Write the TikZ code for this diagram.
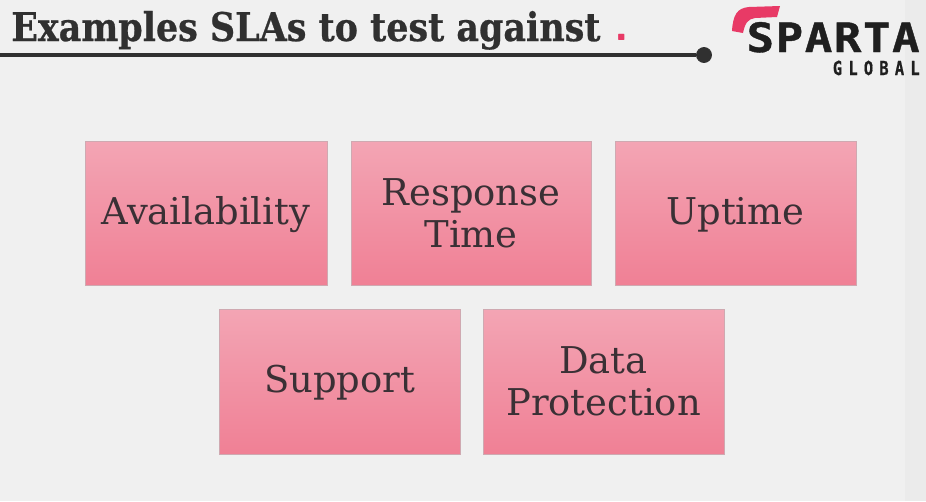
\documentclass[tikz,border=0pt]{standalone}
\usepackage{fontspec}
\setmainfont{DejaVu Serif}
\newfontfamily\titlefont[FakeStretch=.883,FakeBold=.6]{DejaVu Serif}
\newfontfamily\logofont[FakeStretch=1.13,FakeBold=1]{DejaVu Sans Mono}
\newfontfamily\subfont[FakeStretch=.8,FakeBold=.6]{DejaVu Sans Mono}
\usepackage{tikz}
\usetikzlibrary{fit}
\definecolor{bgcol}{HTML}{F0F0F0}
\definecolor{inkcol}{HTML}{3A3035}
\definecolor{darkcol}{HTML}{303030}
\definecolor{pinkcol}{HTML}{E83A66}
\definecolor{boxedge}{HTML}{CFA9B1}
\definecolor{boxtop}{HTML}{F3A5B4}
\definecolor{boxbottom}{HTML}{F08095}
\tikzset{
	slabox/.style={draw=boxedge, line width=.4pt, top color=boxtop, bottom color=boxbottom, inner sep=0pt},
	slatext/.style={align=center, text=inkcol, font=\fontsize{21}{23.8}\selectfont},
	slaone/.style={slatext, yshift=-.8pt},
}

\begin{document}
\begin{tikzpicture}[x=.02cm, y=-.02cm]
	\useasboundingbox (0,0) rectangle (926,501);
	\fill[bgcol] (0,0) rectangle (926,501);
	\fill[black!2!bgcol] (905,0) rectangle (926,501);

	\node[anchor=base west, inner sep=0pt, text=darkcol, font=\titlefont\fontsize{22.5}{24}\selectfont\bfseries] (title) at (11,41) {Examples SLAs to test against};	% heading
	\node[anchor=base, inner sep=0pt, text=pinkcol, font=\sffamily\fontsize{27}{27}\selectfont\bfseries] (stop) at (622,40) {.};
	\coordinate (rulestart) at (0,55);
	\node[draw=darkcol, fill=darkcol, circle, minimum size=8.6pt, inner sep=0pt] (dot) at (704,55) {};
	\draw[darkcol, line width=2pt] (rulestart) -- (dot);

	\fill[pinkcol] (732,31) .. controls (733,15) and (737,8) .. (749,7) -- (780,6) -- (777,17) -- (755,18) .. controls (748,19) and (745,23) .. (743,33) -- cycle;	% logo
	\node[anchor=base east, inner sep=0pt, text=black!88, font=\logofont\fontsize{23}{23}\selectfont\bfseries\addfontfeatures{LetterSpace=4}] (sparta) at (920,52) {SPARTA};
	\node[anchor=base east, inner sep=0pt, text=black!88, font=\subfont\fontsize{11}{11}\selectfont\bfseries\addfontfeatures{LetterSpace=32}] (global) at (920,75) {GLOBAL};

	\node[slabox, fit={(85,141) (327,285)}, label={[slaone]center:Availability}] (A) {};	% upper boxes
	\node[slabox, fit={(351,141) (591,285)}, label={[slatext]center:Response\\Time}] (B) {};
	\node[slabox, fit={(615,141) (856,285)}, label={[slaone]center:Uptime}] (C) {};

	\node[slabox, fit={(219,309) (460,454)}, label={[slaone]center:Support}] (D) {};	% lower boxes
	\node[slabox, fit={(483,309) (724,454)}, label={[slatext]center:Data\\Protection}] (E) {};
\end{tikzpicture}
\end{document}
